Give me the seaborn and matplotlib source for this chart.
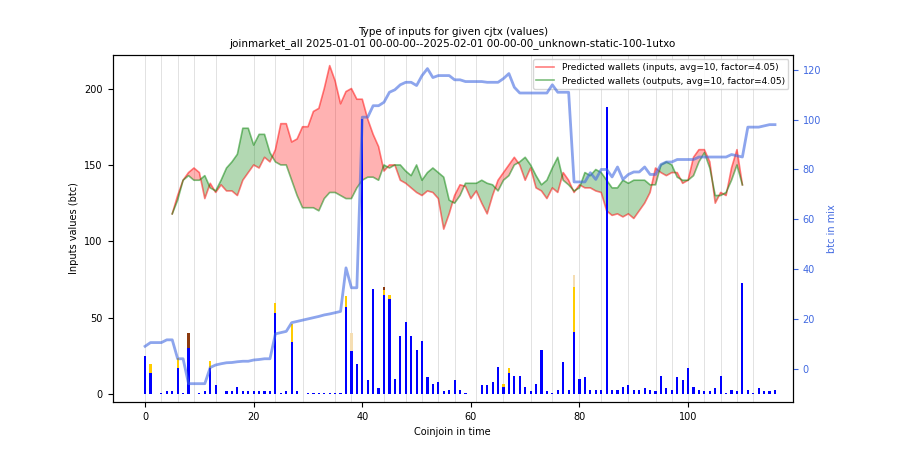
import numpy as np
import pandas as pd
import seaborn as sns
import matplotlib
matplotlib.use("Agg")
import matplotlib.pyplot as plt

# coinjoin input values (btc) per coinjoin, main part and extra top part
blue_vals = [25, 14, 0, 1, 2, 2, 17, 1, 30, 0, 1, 2, 17, 6, 0, 2, 2, 5, 2, 2,
             2, 2, 2, 2, 53, 1, 2, 34, 2, 0, 0.5, 0.5, 0.5, 0.5, 0.5, 0.5, 0.5, 57, 28, 20,
             180, 9, 69, 4, 65, 62, 10, 38, 47, 38, 29, 35, 11, 7, 8, 2, 3, 9, 3, 1,
             0, 0, 6, 6, 8, 18, 5, 14, 12, 12, 5, 2, 7, 29, 2, 1, 3, 21, 3, 41,
             10, 11, 3, 3, 3, 188, 3, 3, 5, 6, 3, 3, 4, 3, 2, 12, 4, 3, 11, 9,
             17, 5, 3, 2, 2, 4, 12, 1, 3, 2, 73, 3, 1, 4, 2, 2, 3]
gold_extra = {1: 6, 6: 7, 12: 5, 24: 7, 27: 12, 37: 7, 44: 3, 45: 3, 66: 2, 67: 3, 79: 29}
brown_extra = {8: 10, 44: 2}
light_extra = {38: 12, 79: 8}

# btc in mix (right axis)
btc_in_mix = [9, 10.5, 10.5, 10.5, 11.6, 11.6, 4, 4, -6, -6, -6, -6, 0.5, 1.5, 2, 2.4, 2.5, 2.8, 3, 3,
              3.5, 3.7, 4, 4, 14, 14.5, 15, 18.5, 19, 19.5, 20, 20.5, 21, 21.6, 22, 22.5, 23, 40.5, 32.5, 32.5,
              101, 101, 105.6, 105.6, 107, 111, 112, 114, 115, 115, 113.7, 117.7, 120.5, 116.9, 117.7, 117.7, 117.7, 116, 116, 115.3,
              115.3, 115.3, 115.3, 115, 115, 115, 116.5, 118.5, 113, 110.7, 110.7, 110.7, 110.7, 110.7, 110.7, 114, 111, 111, 111, 75,
              75, 75, 78.7, 76, 80, 80, 77, 81, 76, 78, 79, 79, 81, 78, 78, 82, 83, 83, 84, 84,
              84, 84, 85, 85, 85, 85, 85, 85, 86, 85.5, 85, 97, 97, 97, 97.5, 98, 98]

# predicted wallets (inputs / outputs), coinjoins 5..110
pred_idx = list(range(5, 111))
pred_inputs = [118, 130, 140, 145, 148, 145, 128, 138, 132, 137, 133, 133, 130, 140, 145, 150, 148, 155, 152,
               160, 177, 177, 165, 167, 175, 175, 185, 187, 200, 215, 205, 190, 198, 200, 193, 193, 180, 170, 162,
               146, 150, 150, 140, 138, 135, 132, 130, 133, 132, 128, 108, 118, 130, 137, 136, 128, 133, 125, 118,
               130, 140, 145, 150, 155, 150, 140, 148, 135, 133, 128, 135, 132, 145, 140, 132, 137, 135, 135, 133,
               132, 120, 117, 118, 116, 118, 115, 120, 125, 132, 148, 145, 143, 145, 145, 138, 140, 155, 160, 160,
               152, 125, 132, 130, 148, 160, 137]
pred_outputs = [118, 127, 140, 143, 140, 140, 143, 135, 133, 140, 148, 152, 157, 174, 174, 163, 170, 170, 158,
                152, 150, 150, 140, 130, 122, 122, 122, 120, 128, 132, 132, 130, 128, 128, 135, 140, 142, 142, 140,
                150, 148, 150, 150, 146, 143, 150, 140, 145, 148, 145, 142, 127, 125, 130, 138, 138, 138, 140, 138,
                137, 133, 140, 143, 150, 152, 155, 150, 143, 137, 140, 148, 155, 140, 137, 133, 135, 145, 143, 147,
                145, 140, 135, 135, 140, 138, 140, 140, 140, 137, 137, 150, 152, 150, 142, 140, 140, 143, 152, 158,
                148, 130, 130, 132, 140, 150, 137]

day_lines = [0, 3, 6, 9, 13, 20, 24, 29, 35, 38, 44, 48, 51, 54, 57, 61, 66, 71, 75, 80,
             84, 89, 94, 97, 100, 103, 106, 109, 112]

idx = np.arange(len(blue_vals))
df_pred = pd.DataFrame({"idx": pred_idx, "inputs": pred_inputs, "outputs": pred_outputs})
df_mix = pd.DataFrame({"idx": idx, "btc": btc_in_mix})

fig = plt.figure(figsize=(9, 4.5), dpi=100)
ax = fig.add_axes([0.125, 0.107, 0.756, 0.771])

for d in day_lines:
    ax.axvline(d, color="#dddddd", lw=0.6, zorder=0)

w = 0.4
blue = np.array(blue_vals, dtype=float)
base = blue.copy()
for extra, col in [(gold_extra, "#ffcc00"), (brown_extra, "#8b3a0f"), (light_extra, "#f5deb3")]:
    keys = list(extra.keys())
    ax.bar(keys, [extra[k] for k in keys], bottom=[base[k] for k in keys], width=w, color=col, zorder=2)
    for k in keys:
        base[k] += extra[k]
ax.bar(idx, blue, width=w, color="blue", zorder=3)

ax.fill_between(df_pred["idx"], df_pred["inputs"], df_pred["outputs"],
                where=df_pred["inputs"] >= df_pred["outputs"], interpolate=True, color="red", alpha=0.3, lw=0)
ax.fill_between(df_pred["idx"], df_pred["inputs"], df_pred["outputs"],
                where=df_pred["inputs"] < df_pred["outputs"], interpolate=True, color="green", alpha=0.3, lw=0)
sns.lineplot(data=df_pred, x="idx", y="inputs", ax=ax, color="red", alpha=0.5, lw=1.2,
             label="Predicted wallets (inputs, avg=10, factor=4.05)")
sns.lineplot(data=df_pred, x="idx", y="outputs", ax=ax, color="green", alpha=0.5, lw=1.2,
             label="Predicted wallets (outputs, avg=10, factor=4.05)")

ax.set_xlim(-6, 119.3)
ax.set_ylim(-5, 222)
ax.set_xlabel("Coinjoin in time", fontsize=7)
ax.set_ylabel("Inputs values (btc)", fontsize=7)
ax.tick_params(labelsize=7)
ax.legend(loc="upper right", fontsize=6.5)
ax.set_title("Type of inputs for given cjtx (values)\njoinmarket_all 2025-01-01 00-00-00--2025-02-01 00-00-00_unknown-static-100-1utxo",
             fontsize=7.5)

ax2 = ax.twinx()
sns.lineplot(data=df_mix, x="idx", y="btc", ax=ax2, color="royalblue", alpha=0.6, lw=2)
ax2.set_ylim(-13.3, 126)
ax2.set_ylabel("btc in mix", fontsize=7, color="royalblue")
ax2.tick_params(labelsize=7, colors="royalblue")
ax2.set_xlabel("")

fig.savefig("out.png", dpi=100)
